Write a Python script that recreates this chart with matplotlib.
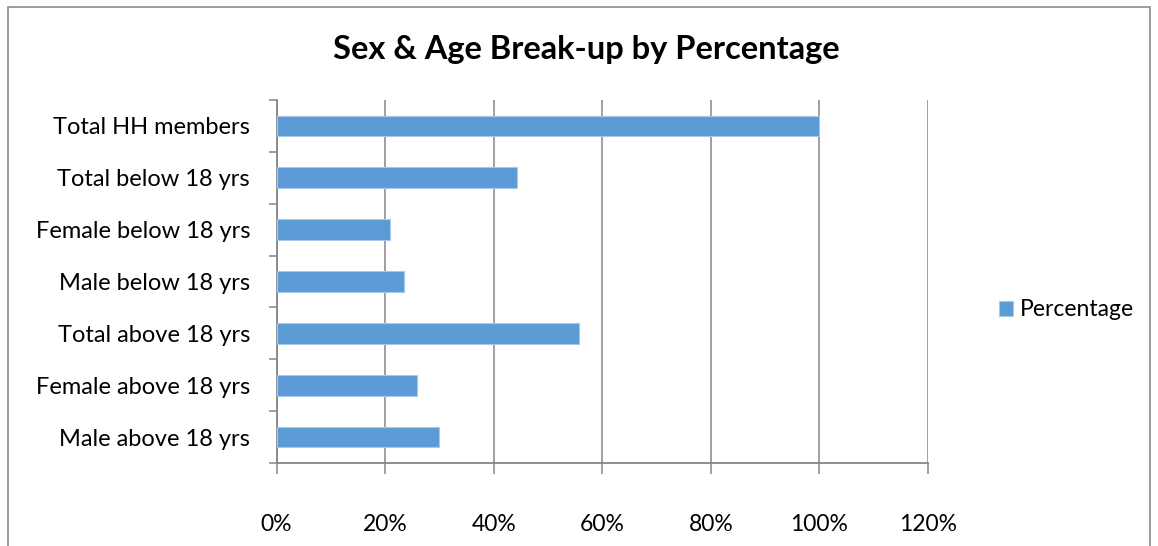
import matplotlib.pyplot as plt
from matplotlib.patches import Rectangle
from matplotlib.ticker import FixedLocator, PercentFormatter

plt.rcParams['font.family'] = ['Lato', 'DejaVu Sans']

categories = ["Total HH members", "Total below 18 yrs", "Female below 18 yrs",
              "Male below 18 yrs", "Total above 18 yrs", "Female above 18 yrs",
              "Male above 18 yrs"]
percentage = [100, 44.3, 20.9, 23.4, 55.7, 25.8, 29.9]
x_ticks = [0, 20, 40, 60, 80, 100, 120]

bar_color = '#5B9BD5'
grid_color = '#868686'

fig = plt.figure(figsize=(11.58, 5.46), dpi=100)
W, H = 1158, 546
# axes box in pixel coordinates
left, right, top, bottom = 276.5, 928, 100, 463
ax = fig.add_axes([left / W, 1 - bottom / H, (right - left) / W, (bottom - top) / H])

# outer chart border
fig.patches.append(Rectangle((8 / W, -0.01), (1150 - 8) / W, 1 - 7 / H + 0.01,
                             transform=fig.transFigure, fill=False,
                             edgecolor='#8c8c8c', linewidth=1.2))

pos = list(range(len(categories)))[::-1]
ax.barh(pos, percentage, height=0.4, color=bar_color, edgecolor='#a9c8e8',
        linewidth=0.8, zorder=3, label='Percentage')

ax.set_xlim(0, 120)
ax.set_ylim(-0.5, len(categories) - 0.5)
ax.set_xticks(x_ticks)
ax.xaxis.set_major_formatter(PercentFormatter(decimals=0))
ax.grid(axis='x', color=grid_color, linewidth=1.1, zorder=0)

ax.set_yticks(pos)
ax.set_yticklabels(categories)
ax.yaxis.set_minor_locator(FixedLocator([p - 0.5 for p in range(len(categories) + 1)]))
ax.tick_params(axis='y', which='major', length=0, pad=19, labelsize=17)
ax.tick_params(axis='y', which='minor', length=6, width=1.1, color=grid_color)
ax.tick_params(axis='x', which='major', length=8, width=1.1, color=grid_color,
               pad=29, labelsize=16.5)

for side in ['top', 'right']:
    ax.spines[side].set_visible(False)
for side in ['left', 'bottom']:
    ax.spines[side].set_color(grid_color)
    ax.spines[side].set_linewidth(1.3)

fig.text(586 / W, 1 - 50 / H, "Sex & Age Break-up by Percentage",
         ha='center', va='center', fontsize=23.5, fontweight='bold')

ax.legend(loc='center left', bbox_to_anchor=(999 / W, 1 - 310 / H),
          bbox_transform=fig.transFigure, frameon=False, fontsize=16.5,
          borderpad=0, borderaxespad=0,
          handlelength=0.6, handleheight=0.6, handletextpad=0.3)

fig.savefig('out.png', dpi=100)
